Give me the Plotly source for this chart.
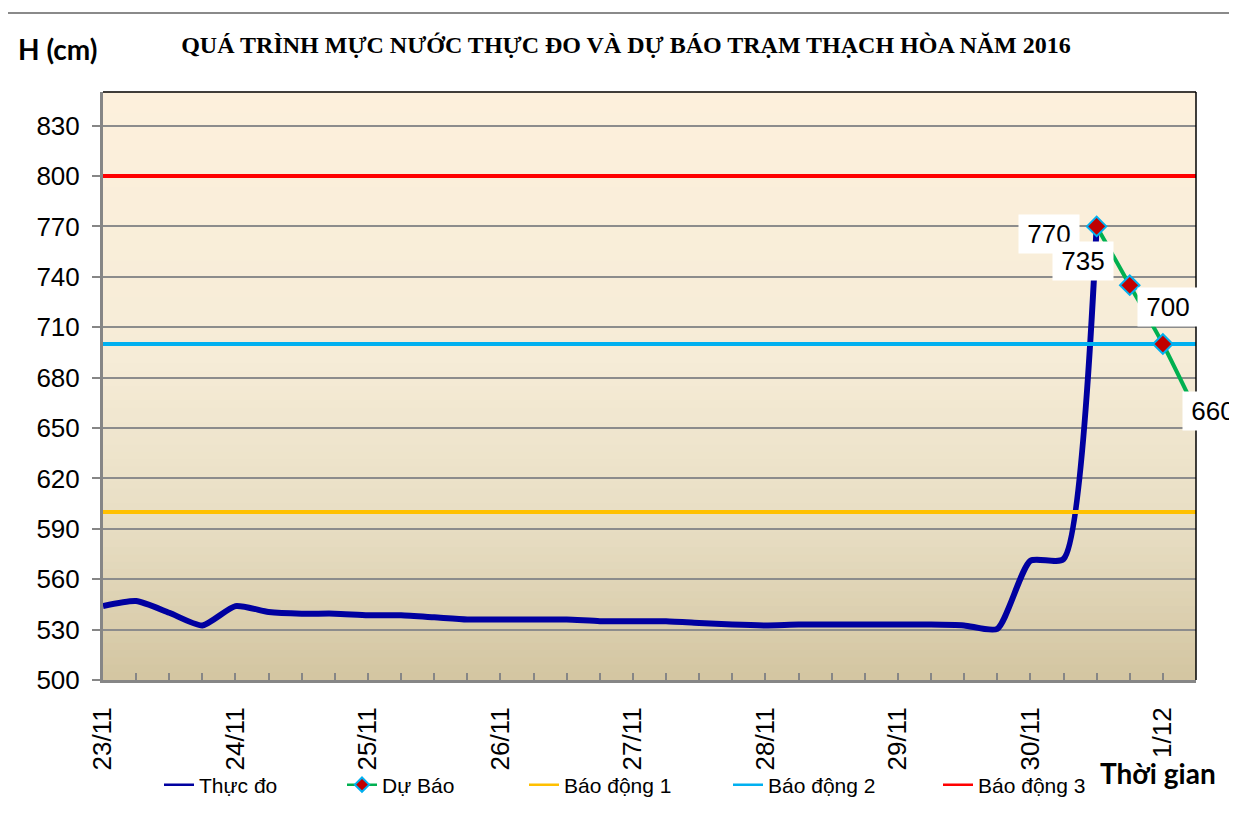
import plotly.graph_objects as go
import pandas as pd

# ---------------- data ----------------
obs_start = "2016-11-23 00:00"
obs_values = [544, 547, 540, 532.5, 544, 540.5, 539.5, 539.5,
              538.5, 538.5, 537.3, 536, 536, 536, 536, 535,
              535, 535, 534, 533, 532.5, 533, 533, 533,
              533, 533, 532.5, 530.5, 571, 572, 770]
fc_start = "2016-11-30 12:00"
fc_values = [770, 735, 700, 660]
alarm_names = ["Báo động 1", "Báo động 2", "Báo động 3"]
alarm_levels = [600, 700, 800]
alarm_colors = ["#FFC000", "#00B0F0", "#FF0000"]
tick_dates = ["2016-11-23", "2016-11-24", "2016-11-25", "2016-11-26", "2016-11-27",
              "2016-11-28", "2016-11-29", "2016-11-30", "2016-12-01"]
tick_labels = ["23/11", "24/11", "25/11", "26/11", "27/11", "28/11", "29/11", "30/11", "1/12"]
x_range = ["2016-11-23 00:00", "2016-12-01 06:00"]

obs_x = pd.date_range(obs_start, periods=len(obs_values), freq="6h")
fc_x = pd.date_range(fc_start, periods=len(fc_values), freq="6h")

# ---------------- layout geometry (page has an 8px body margin) ----------------
OFF = 8
W, H = 1237 - OFF, 819 - OFF
PL, PR, PT, PB = 103, 1196, 92, 680          # plot area in page pixels
L, T = PL - OFF, PT - OFF
R, B = W - (PR - OFF), H - (PB - OFF)
pw, ph = PR - PL, PB - PT


def px(xp):
    return (xp - PL) / pw


def py(yp):
    return (PB - yp) / ph


LEG_FONT = dict(family="Liberation Sans, Arial", size=21, color="black")
legend_ids = ["legend", "legend2", "legend3", "legend4", "legend5"]
legend_text_x = [208, 391, 573, 777, 987]

OBS_COLOR, FC_COLOR = "#0000A0", "#00B050"
DIAMOND = dict(symbol="diamond", size=15, color="#C00000", line=dict(color="#00B0F0", width=2))

fig = go.Figure()

fig.add_trace(go.Scatter(x=obs_x, y=obs_values, name="Thực đo", mode="lines", showlegend=False,
                         line=dict(color=OBS_COLOR, width=6, shape="spline", smoothing=0.6)))
fig.add_trace(go.Scatter(x=fc_x, y=fc_values, name="Dự Báo", mode="lines", showlegend=False,
                         line=dict(color=FC_COLOR, width=4, shape="spline", smoothing=0.6)))
for nm, lv, col in zip(alarm_names, alarm_levels, alarm_colors):
    fig.add_trace(go.Scatter(x=x_range, y=[lv, lv], name=nm, mode="lines", showlegend=False,
                             line=dict(color=col, width=4)))
# markers on top of alarm lines
fig.add_trace(go.Scatter(x=fc_x, y=fc_values, name="Dự Báo", mode="markers",
                         showlegend=False, marker=DIAMOND))

# legend entries (thin sample lines like the original legend)
legend_specs = [("Thực đo", OBS_COLOR, False), ("Dự Báo", FC_COLOR, True)] + \
    [(nm, col, False) for nm, col in zip(alarm_names, alarm_colors)]
for lid, (nm, col, mk) in zip(legend_ids, legend_specs):
    fig.add_trace(go.Scatter(x=[None], y=[None], name=nm, legend=lid,
                             mode="lines+markers" if mk else "lines",
                             line=dict(color=col, width=2.5),
                             marker=dict(symbol="diamond", size=11, color="#C00000",
                                         line=dict(color="#00B0F0", width=2))))

# background gradient bands
stops = [(0.0, (253, 240, 220)), (0.45, (246, 236, 215)), (0.75, (231, 221, 194)),
         (1.0, (211, 197, 161))]


def color_at(t):
    for (t0, c0), (t1, c1) in zip(stops[:-1], stops[1:]):
        if t0 <= t <= t1:
            f = (t - t0) / (t1 - t0)
            return "rgb(%d,%d,%d)" % tuple(round(a + (b - a) * f) for a, b in zip(c0, c1))
    return "rgb(%d,%d,%d)" % stops[-1][1]


shapes = []
N = 80
for k in range(N):
    t = (k + 0.5) / N
    shapes.append(dict(type="rect", xref="paper", yref="paper", x0=0, x1=1,
                       y0=1 - (k + 1) / N - 0.001, y1=1 - k / N + 0.001,
                       fillcolor=color_at(t), line=dict(width=0), layer="below"))
# outer chart border
shapes.append(dict(type="rect", xref="paper", yref="paper", x0=px(7), x1=1.3,
                   y0=-0.6, y1=py(13), line=dict(color="#8A8A8A", width=2),
                   fillcolor="rgba(0,0,0,0)", layer="below"))
# plot area top / right border
shapes.append(dict(type="line", xref="paper", yref="paper", x0=0, x1=1, y0=1, y1=1,
                   line=dict(color="#000000", width=1.5), layer="above"))
shapes.append(dict(type="line", xref="paper", yref="paper", x0=1, x1=1, y0=0, y1=1,
                   line=dict(color="#000000", width=1.5), layer="above"))

annotations = []
# data labels for the forecast
shifts = [(-48, -8), (-47, 24), (5, 37), (17, 0)]
for xv, yv, (dx, dy) in zip(fc_x, fc_values, shifts):
    annotations.append(dict(x=xv, y=yv, xref="x", yref="y", text=str(yv), showarrow=False,
                            xshift=dx, yshift=dy, bgcolor="white", width=58, height=36,
                            font=dict(family="Liberation Sans, Arial", size=26, color="black")))
annotations.append(dict(x=px(57), y=py(49), xref="paper", yref="paper", text="<b>H (cm)</b>",
                        xanchor="center", yanchor="middle",
                        showarrow=False, font=dict(family="Lato", size=28, color="black")))
annotations.append(dict(x=px(1158), y=py(773), xref="paper", yref="paper", text="<b>Thời gian</b>",
                        xanchor="center", yanchor="middle",
                        showarrow=False, font=dict(family="Lato", size=28, color="black")))

layout_legends = {}
for lid, tx in zip(legend_ids, legend_text_x):
    layout_legends[lid] = dict(orientation="h", x=px(tx - 49), y=py(785),
                               xanchor="left", yanchor="middle", font=LEG_FONT,
                               bgcolor="rgba(0,0,0,0)")

fig.update_layout(
    width=W, height=H,
    margin=dict(l=L, r=R, t=T, b=B),
    paper_bgcolor="white",
    plot_bgcolor="rgba(0,0,0,0)",
    title=dict(text="<b>QUÁ TRÌNH MỰC NƯỚC THỰC ĐO VÀ DỰ BÁO TRẠM THẠCH HÒA NĂM 2016</b>",
               x=(626 - OFF) / W, xanchor="center", y=1 - (45 - OFF) / H, yanchor="middle",
               font=dict(family="Liberation Serif", size=24, color="black")),
    shapes=shapes,
    annotations=annotations,
    showlegend=True,
    xaxis=dict(type="date", range=x_range, tickmode="array", tickvals=tick_dates,
               ticktext=tick_labels, tickangle=-90, showgrid=False, zeroline=False,
               showline=True, linecolor="#868686", linewidth=3,
               ticks="inside", ticklen=7, tickcolor="#868686", tickwidth=1.5,
               ticklabelstandoff=14,
               minor=dict(ticks="inside", dtick=6 * 3600 * 1000, tick0="2016-11-23",
                          ticklen=7, tickcolor="#868686", tickwidth=1.5),
               tickfont=dict(family="Liberation Sans, Arial", size=26, color="black")),
    yaxis=dict(range=[500, 850], tick0=500, dtick=30, showgrid=True,
               gridcolor="#8C8C8C", gridwidth=2, zeroline=False,
               showline=True, linecolor="#868686", linewidth=3,
               ticks="outside", ticklen=8, tickcolor="#868686", tickwidth=2,
               ticklabelstandoff=7,
               tickfont=dict(family="Liberation Sans, Arial", size=26, color="black")),
    **layout_legends,
)

fig.write_html("out.html")
